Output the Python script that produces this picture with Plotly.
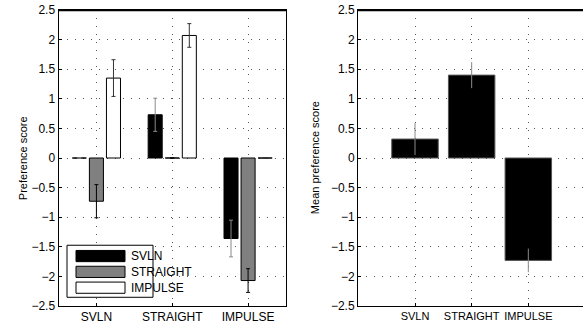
import plotly.graph_objects as go

# ---------------- data ----------------
categories = ["SVLN", "STRAIGHT", "IMPULSE"]
series_names = ["SVLN", "STRAIGHT", "IMPULSE"]
# left panel: value of each series at each category group
svln_vals = [0.0, 0.73, -1.36]
straight_vals = [-0.73, 0.0, -2.07]
impulse_vals = [1.35, 2.07, 0.0]
svln_err = [0.0, 0.28, 0.31]
straight_err = [0.28, 0.0, 0.20]
impulse_err = [0.31, 0.20, 0.0]
# right panel: mean preference
mean_vals = [0.32, 1.40, -1.73]
mean_err = [0.27, 0.22, 0.20]
y_ticks = [-2.5, -2, -1.5, -1, -0.5, 0, 0.5, 1, 1.5, 2, 2.5]
y_ticktext = ["\u22122.5", "\u22122", "\u22121.5", "\u22121", "\u22120.5", "0", "0.5", "1", "1.5", "2", "2.5"]

# ---------------- style ----------------
W, H = 583, 327
TOP_PX, BOT_PX = 10, 305.7   # plot-area top / bottom in window pixels
MT = TOP_PX
MB = H - BOT_PX
PH = H - MT - MB
FONT = "Liberation Sans, Arial, Helvetica, sans-serif"
bar_colors = ["#000000", "#808080", "#ffffff"]
err_colors = ["#8a8a8a", "#000000", "#333333"]
slot = 0.225
bw = 0.185

def px(x):
    return x / W

def py(y):
    return (H - MB - y) / PH

xpos = [1, 2, 3]
fig = go.Figure()

left_vals = [svln_vals, straight_vals, impulse_vals]
left_errs = [svln_err, straight_err, impulse_err]
for i, name in enumerate(series_names):
    fig.add_trace(go.Bar(
        x=xpos, y=left_vals[i], name=name,
        width=bw, offset=(i - 1) * slot - bw / 2,
        marker=dict(color=bar_colors[i], line=dict(color="#000000", width=1)),
        error_y=dict(type="data", array=left_errs[i], visible=True,
                     color=err_colors[i], thickness=1, width=2),
        xaxis="x", yaxis="y", showlegend=False,
    ))

fig.add_trace(go.Bar(
    x=xpos, y=mean_vals, name="mean",
    width=0.82, offset=-0.41,
    marker=dict(color="#000000", line=dict(color="#555555", width=1)),
    error_y=dict(type="data", array=mean_err, visible=True,
                 color="#8a8a8a", thickness=1, width=0),
    xaxis="x2", yaxis="y2", showlegend=False,
))

axis_common = dict(
    showgrid=True, gridcolor="#555555", griddash="1px,7px", gridwidth=1,
    zeroline=False, showline=True, linecolor="#000000", linewidth=1,
    ticks="inside", ticklen=3, tickcolor="#000000", automargin=False,
)
tf12 = dict(family=FONT, size=12, color="#000000")
tf11 = dict(family=FONT, size=11, color="#000000")

fig.update_layout(
    width=W, height=H,
    margin=dict(l=0, r=0, t=MT, b=MB),
    paper_bgcolor="#ffffff", plot_bgcolor="#ffffff",
    barmode="overlay",
    xaxis=dict(domain=[px(58.5), px(286)], range=[0.5, 3.5], tickangle=0,
               tickvals=xpos, ticktext=categories, mirror=True,
               tickfont=tf12, **axis_common),
    yaxis=dict(range=[-2.5, 2.5], tickvals=y_ticks, ticktext=y_ticktext,
               mirror=True, tickfont=tf12, ticklabeloverflow="allow", **axis_common),
    xaxis2=dict(domain=[px(358), 1.0], range=[-0.006, 3.965], anchor="y2", tickangle=0,
                tickvals=xpos, ticktext=categories, mirror=True,
                tickfont=tf11, **axis_common),
    yaxis2=dict(range=[-2.5, 2.5], tickvals=y_ticks, ticktext=y_ticktext,
                anchor="x2", mirror=False, tickfont=tf12, ticklabeloverflow="allow",
                **axis_common),
)

# y-axis titles
fig.add_annotation(x=px(15), y=py(158), xref="paper", yref="paper",
                   text="Preference score", textangle=-90, showarrow=False,
                   font=dict(family=FONT, size=11, color="#000000"))
fig.add_annotation(x=px(315), y=py(158), xref="paper", yref="paper",
                   text="Mean preference score", textangle=-90, showarrow=False,
                   font=dict(family=FONT, size=11, color="#000000"))

# explicit top frame lines
shapes = [
    dict(type="line", xref="paper", yref="paper", x0=px(58.5), x1=px(286),
         y0=py(10.5), y1=py(10.5), line=dict(color="#000000", width=1.5), layer="above"),
    dict(type="line", xref="paper", yref="paper", x0=px(358), x1=1,
         y0=py(10.5), y1=py(10.5), line=dict(color="#000000", width=1.5), layer="above"),
]
# custom legend (wide patches, as in the reference)
shapes.append(dict(type="rect", xref="paper", yref="paper",
                   x0=px(67), x1=px(153), y0=py(297), y1=py(245),
                   line=dict(color="#000000", width=1), fillcolor="#ffffff"))
row_centers = [255.8, 271.6, 287.4]
for i, name in enumerate(series_names):
    yc = row_centers[i]
    shapes.append(dict(type="rect", xref="paper", yref="paper",
                       x0=px(76), x1=px(125), y0=py(yc + 5.6), y1=py(yc - 5.6),
                       line=dict(color="#000000", width=1), fillcolor=bar_colors[i]))
    fig.add_annotation(x=px(129), y=py(yc), xref="paper", yref="paper",
                       text=name, showarrow=False, xanchor="left", yanchor="middle",
                       font=dict(family=FONT, size=12, color="#000000"))
fig.update_layout(shapes=shapes)

fig.write_html("out.html", config={"displayModeBar": False},
               post_script="document.body.style.margin='0';document.body.style.overflow='hidden';")
